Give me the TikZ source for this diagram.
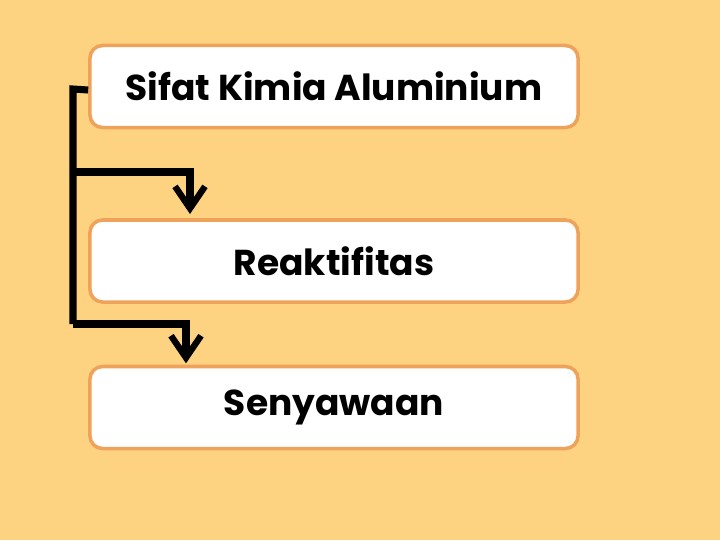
\documentclass[tikz,border=0pt]{standalone}
\usepackage{fontspec}
\setmainfont{Poppins}
\usepackage{tikz}
\usepackage{xcolor}
\usetikzlibrary{arrows.meta,positioning,calc}
\definecolor{paper}{HTML}{FDD382}
\definecolor{ink}{HTML}{000000}
\definecolor{rimorange}{HTML}{EFA25A}
\tikzset{
  topicbox/.style={draw=rimorange,fill=white,line width=2.5pt,rounded corners=9pt,
                   minimum width=12.2cm,minimum height=2.05cm,
                   align=center,font=\fontsize{25.6}{30}\selectfont\bfseries,inner sep=4pt},
  branchline/.style={draw=ink,line width=5pt,miter limit=10},
  brancharr/.style={branchline,-{Straight Barb[length=5.5mm,width=7.5mm,line width=4.5pt]}}
}

\begin{document}
\begin{tikzpicture}[x=0.025cm,y=-0.025cm]
  \fill[paper] (0,0) rectangle (720,540);
  \useasboundingbox (0,0) rectangle (720,540);

  \node[topicbox] (sifat) at (334,86.5) {Sifat Kimia Aluminium};
  \node[topicbox] (reaktif) at (334,261) {Reaktifitas};
  \node[topicbox] (senyawa) at (334,407.5) {Senyawaan};

  \coordinate (hub) at (73,89);
  \coordinate (taba) at (190,172);
  \coordinate (tabb) at (186,324);
  \draw[branchline] ([yshift=-2.5]sifat.west) -- (hub) -- (hub |- tabb);
  \draw[brancharr] (hub |- taba) -- (taba) -- ([yshift=3]reaktif.north -| taba);
  \draw[brancharr] (hub |- tabb) -- (tabb) -- ([yshift=1]senyawa.north -| tabb);
\end{tikzpicture}
\end{document}
